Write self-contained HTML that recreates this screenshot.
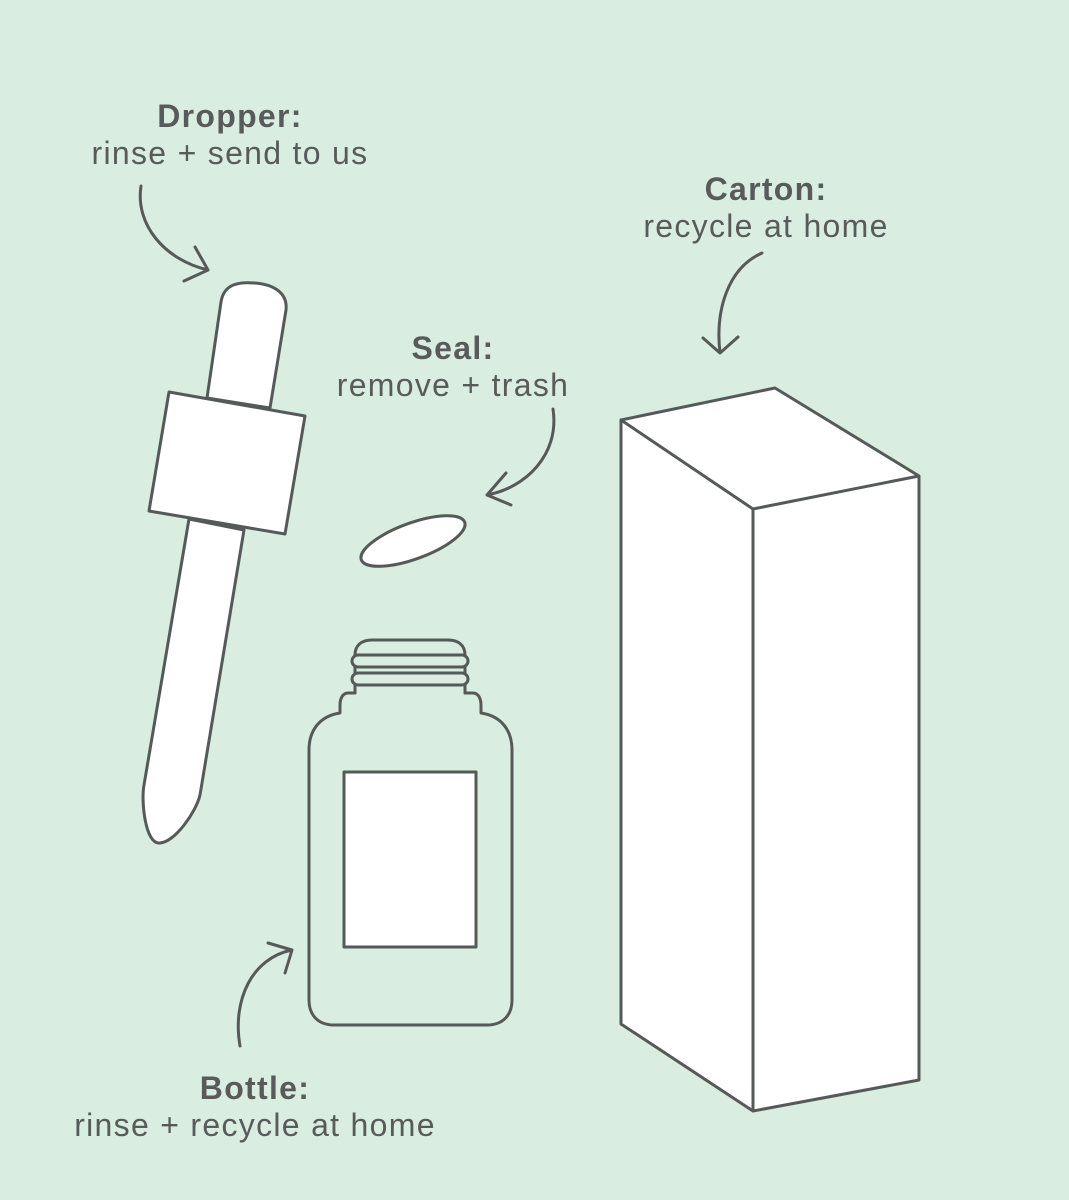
<!DOCTYPE html>
<html><head><style>
html,body{margin:0;padding:0}
body{width:1069px;height:1200px;background:#d9ede0;position:relative;overflow:hidden;font-family:"Liberation Sans",sans-serif;color:#575c5a}
.t{position:absolute;text-align:center;font-size:32px;line-height:37px;width:500px;letter-spacing:1.3px}
.t b{display:block}
</style></head><body>
<svg width="1069" height="1200" style="position:absolute;left:0;top:0" fill="none" stroke="#555a58" stroke-width="3" stroke-linejoin="round" stroke-linecap="round">
<path d="M221,302 C224,283 240,282 254,283 C272,284 288,292 286,310 L270,408 L207,398 Z" fill="#fff"/>
<path d="M189,519 L144,785 C141,800 145,845 160,843 C175,842 196,812 200,795 L244,530 Z" fill="#fff"/>
<path d="M169,392 L305,416 L285,534 L149,511 Z" fill="#fff"/>
<ellipse cx="413" cy="541" rx="55" ry="18" transform="rotate(-20 413 541)" fill="#fff"/>
<path d="M355,693 L355,685 M465,693 L465,685 M355,667 L355,673 M465,667 L465,673"/>
<path d="M355,655 C355,645 362,640 372,640 L448,640 C458,640 465,645 465,655 Z"/>
<rect x="352" y="655" width="116" height="12" rx="6"/>
<rect x="352" y="673" width="116" height="12" rx="6"/>
<path d="M355,685 L355,693 L348,693 C342,693 340,700 340,705 L340,713 C320,716 309,730 309,750 L309,1000 C309,1015 318,1025 334,1025 L487,1025 C503,1025 512,1015 512,1000 L512,750 C512,730 501,716 481,713 L481,705 C481,700 479,693 473,693 L465,693 L465,685"/>
<rect x="344" y="772" width="132" height="175" fill="#fff"/>
<path d="M621,420 L775,388 L919,476 L919,1080 L753,1111 L621,1024 Z" fill="#fff"/>
<path d="M621,420 L753,509 L919,476 M753,509 L753,1111"/>
<path d="M141,186 C135,225 165,260 208,270 M195,247 L208,270 L184,281"/>
<path d="M553,409 C560,455 525,488 487,495 M506,473 L487,495 L511,505"/>
<path d="M762,253 C728,268 715,310 720,353 M703,338 L720,353 L738,337"/>
<path d="M240,1046 C232,1000 252,958 292,950 M268,943 L292,950 L285,973"/>
</svg>
<div class="t" style="left:-20px;top:98px"><b>Dropper:</b>rinse + send to us</div>
<div class="t" style="left:516px;top:171px"><b>Carton:</b>recycle at home</div>
<div class="t" style="left:203px;top:330px"><b>Seal:</b>remove + trash</div>
<div class="t" style="left:5px;top:1070px"><b>Bottle:</b>rinse + recycle at home</div>
</body></html>
